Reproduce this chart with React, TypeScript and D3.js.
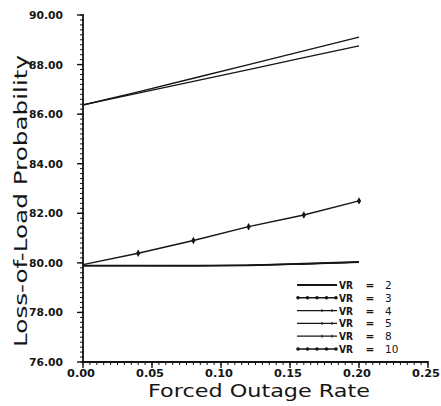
import React from "react";
import * as d3 from "d3";

const forcedOutage = [0, 0.04, 0.08, 0.12, 0.16, 0.2];
const vr2 = [79.89, 79.89, 79.89, 79.9, 79.97, 80.04];
const vr3 = [79.93, 80.39, 80.9, 81.46, 81.93, 82.5];
const vr4 = [79.89, 79.89, 79.88, 79.91, 79.96, 80.03];
const vr5 = [79.89, 79.89, 79.89, 79.9, 79.95, 80.02];
const vr8 = [86.37, 86.85, 87.32, 87.8, 88.28, 88.75];
const vr10 = [86.37, 86.9, 87.45, 88.0, 88.55, 89.11];
const seriesNames = ["2", "3", "4", "5", "8", "10"];
const seriesValues = [vr2, vr3, vr4, vr5, vr8, vr10];
const yTicks = [76, 78, 80, 82, 84, 86, 88, 90];
const xTicks = [0, 0.05, 0.1, 0.15, 0.2, 0.25];

const W = 441, H = 406;
const FONT = "DejaVu Sans, sans-serif";
const INK = "#151515";

export default function App() {
  const x = d3.scaleLinear().domain([0, 0.25]).range([83, 428]);
  const y = d3.scaleLinear().domain([76, 90]).range([362, 15]);
  const line = d3.line<number>().x((_, i) => x(forcedOutage[i])).y((d) => y(d));
  const yMinor = d3.range(76, 90.001, 0.2);
  const xMinor = d3.range(0, 0.25001, 0.005);
  const diamond = d3.symbol().type(d3.symbolDiamond).size(16);
  const legendY = (i: number) => 285 + i * 12.8;
  const styles = [
    { w: 1.8, marker: "none" },
    { w: 1.4, marker: "dot" },
    { w: 1.3, marker: "tick" },
    { w: 1.3, marker: "tick" },
    { w: 1.3, marker: "tick" },
    { w: 1.4, marker: "dot" },
  ];
  return (
    <svg width={W} height={H} style={{ display: "block", position: "absolute", left: 0, top: 0, background: "#fff" }}>
      <rect width={W} height={H} fill="#fff" />
      <line x1={x(0)} x2={x(0)} y1={y(90)} y2={y(76)} stroke={INK} strokeWidth={1.8} />
      <line x1={x(0)} x2={x(0.25)} y1={y(76)} y2={y(76)} stroke={INK} strokeWidth={1.8} />
      {yMinor.map((v, i) => (
        <line key={"ym" + i} x1={x(0) - 3} x2={x(0) + 1} y1={y(v)} y2={y(v)} stroke={INK} strokeWidth={1} />
      ))}
      {yTicks.map((v) => (
        <g key={"yt" + v}>
          <line x1={x(0) - 6} x2={x(0) + 1} y1={y(v)} y2={y(v)} stroke={INK} strokeWidth={1.4} />
          <text x={63} y={y(v) + 4} textAnchor="end" fontFamily={FONT} fontSize={10.5} fontWeight="bold" fill={INK}
            textLength={34} lengthAdjust="spacingAndGlyphs">{d3.format(".2f")(v)}</text>
        </g>
      ))}
      {xMinor.map((v, i) => (
        <line key={"xm" + i} x1={x(v)} x2={x(v)} y1={y(76) - 1} y2={y(76) + 3} stroke={INK} strokeWidth={1} />
      ))}
      {xTicks.map((v) => (
        <g key={"xt" + v}>
          <line x1={x(v)} x2={x(v)} y1={y(76) - 1} y2={y(76) + 6} stroke={INK} strokeWidth={1.4} />
          <text x={x(v) - 2} y={377} textAnchor="middle" fontFamily={FONT} fontSize={10.5} fontWeight="bold" fill={INK}
            textLength={28} lengthAdjust="spacingAndGlyphs">{d3.format(".2f")(v)}</text>
        </g>
      ))}
      <text transform={`translate(27,201) rotate(-90)`} textAnchor="middle" fontFamily={FONT} fontSize={17}
        fill={INK} textLength={292} lengthAdjust="spacingAndGlyphs">Loss-of-Load Probability</text>
      <text x={259} y={397} textAnchor="middle" fontFamily={FONT} fontSize={17} fill={INK}
        textLength={222} lengthAdjust="spacingAndGlyphs">Forced Outage Rate</text>
      {seriesValues.map((vals, s) => (
        <g key={"s" + s}>
          <path d={line(vals) || ""} fill="none" stroke={INK} strokeWidth={styles[s].w} />
          {s === 1 && vals.map((v, i) => i > 0 ? (
            <path key={i} d={diamond() || ""} transform={`translate(${x(forcedOutage[i])},${y(v)})`} fill={INK} />
          ) : null)}
        </g>
      ))}
      {seriesNames.map((n, i) => {
        const ly = legendY(i);
        const st = styles[i];
        const pts = d3.range(0, 5).map((k) => 298 + k * 9.5);
        return (
          <g key={"lg" + n}>
            <line x1={297} x2={337} y1={ly} y2={ly} stroke={INK} strokeWidth={st.w} />
            {st.marker === "dot" && pts.map((px, k) => <circle key={k} cx={px} cy={ly} r={1.8} fill={INK} />)}
            {st.marker === "tick" && [322, 332].map((px, k) => (
              <line key={k} x1={px} x2={px} y1={ly - 1.5} y2={ly + 1.5} stroke={INK} strokeWidth={1} />
            ))}
            <text x={339} y={ly + 4} fontFamily={FONT} fontSize={10.5} fontWeight="bold" fill={INK} textLength={14}
              lengthAdjust="spacingAndGlyphs">VR</text>
            <text x={370} y={ly + 4} textAnchor="middle" fontFamily={FONT} fontSize={10.5} fontWeight="bold" fill={INK}>=</text>
            <text x={385} y={ly + 4} fontFamily={FONT} fontSize={10.5} fill={INK}>{n}</text>
          </g>
        );
      })}
    </svg>
  );
}
